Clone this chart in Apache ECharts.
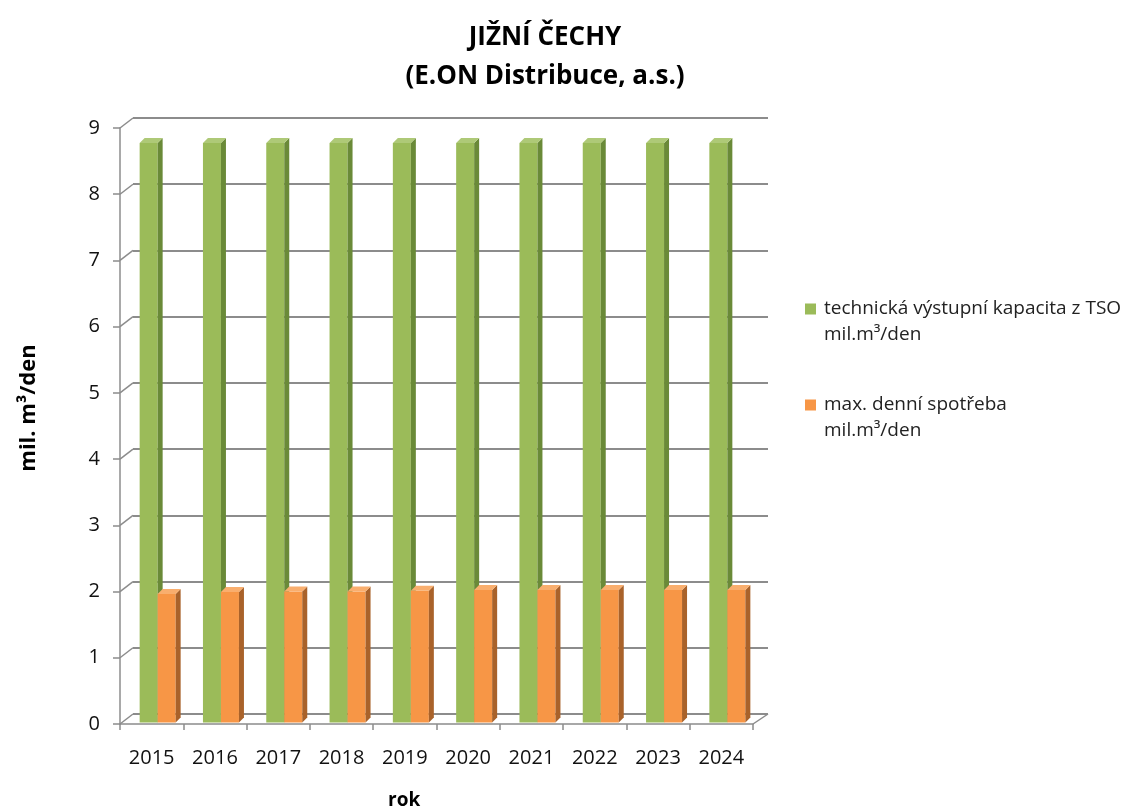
<!DOCTYPE html>
<html>
<head>
<meta charset="utf-8">
<script src="https://cdn.jsdelivr.net/npm/echarts@6/dist/echarts.min.js"></script>
<style>
  html, body { margin: 0; padding: 0; background: #fff; }
  #chart { width: 1141px; height: 810px; }
</style>
</head>
<body>
<div id="chart"></div>
<script>
// data
var roky = ['2015', '2016', '2017', '2018', '2019', '2020', '2021', '2022', '2023', '2024'];
var kapacita = [8.75, 8.75, 8.75, 8.75, 8.75, 8.75, 8.75, 8.75, 8.75, 8.75];
var spotreba = [1.94, 1.97, 1.98, 1.98, 1.99, 2.0, 2.0, 2.0, 2.0, 2.0];
var yTicks = [0, 1, 2, 3, 4, 5, 6, 7, 8, 9];

var nazevKapacita = 'technická výstupní kapacita z TSO\nmil.m³/den';
var nazevSpotreba = 'max. denní spotřeba\nmil.m³/den';

// hloubka 3D efektu
var HL = 5;
var BW = 18;     // sirka sloupce
var POSUN = 6;   // posun sloupcu doprava (sloupce stoji uprostred podlahy)

// ikona legendy zarovnana k prvnimu radku (pod ctvereckem prazdne misto)
var ikona = 'path://M0,0h10v10h-10z M0,33.6h0.01v0.01h-0.01z';

function sloupec3d(poradi, barvy) {
    return function (params, api) {
        var x = api.value(0), v = api.value(1);
        var base = api.coord([x, 0]);
        var top = api.coord([x, v]);
        var x0 = base[0] + POSUN + (poradi === 0 ? -BW : 0);
        var yb = base[1] - 1.5, yt = top[1] - 1.5;
        return {
            type: 'group',
            children: [
                { type: 'rect', shape: { x: x0, y: yt, width: BW, height: yb - yt },
                  style: { fill: barvy[0] } },
                { type: 'polygon', shape: { points: [[x0 + BW, yt], [x0 + BW + HL, yt - HL], [x0 + BW + HL, yb - HL], [x0 + BW, yb]] },
                  style: { fill: barvy[1] } },
                { type: 'polygon', shape: { points: [[x0, yt], [x0 + HL, yt - HL], [x0 + BW + HL, yt - HL], [x0 + BW, yt]] },
                  style: { fill: barvy[2] } }
            ]
        };
    };
}

// sikme cary od osy k zadni stene
function stena(params, api) {
    var v = api.value(1);
    var p = api.coord([0, v]);
    var pul = api.size([1, 0])[0] / 2;
    var left = p[0] - pul;
    var children = [
        { type: 'line', shape: { x1: left, y1: p[1], x2: left + 13, y2: p[1] - 10 },
          style: { stroke: '#8c8c8c', lineWidth: 1.5 } }
    ];
    if (v === 0) {
        var r = api.coord([roky.length - 1, 0]);
        var right = r[0] + pul;
        children.push({ type: 'line', shape: { x1: right, y1: r[1], x2: right + 15, y2: r[1] - 10 },
          style: { stroke: '#8c8c8c', lineWidth: 1.5 } });
    }
    return { type: 'group', children: children };
}

var chart = echarts.init(document.getElementById('chart'));
chart.setOption({
    backgroundColor: '#fff',
    animation: false,
    title: [
        {
            text: 'JIŽNÍ ČECHY\n(E.ON Distribuce, a.s.)',
            left: 540, top: 13, textAlign: 'center',
            textStyle: { fontFamily: 'Open Sans', fontSize: 26, fontWeight: 'bold', color: '#000', lineHeight: 39 }
        },
        {
            text: 'rok',
            left: 383, top: 786,
            textStyle: { fontFamily: 'Open Sans', fontSize: 19, fontWeight: 'bold', color: '#000' }
        }
    ],
    legend: {
        orient: 'vertical',
        left: 805, top: 296, padding: 0,
        itemWidth: 11, itemHeight: 37,
        itemGap: 44,
        icon: ikona,
        data: [nazevKapacita, nazevSpotreba],
        textStyle: { fontFamily: 'Open Sans', fontSize: 19, color: '#222', lineHeight: 26, padding: [0, 0, 0, 3] }
    },
    grid: [
        { left: 120, width: 633, top: 128, bottom: 86 },
        { left: 133, width: 635, top: 118, bottom: 96 }
    ],
    xAxis: [
        {
            type: 'category', gridIndex: 0, data: roky,
            axisLine: { lineStyle: { color: '#8c8c8c', width: 1.5 } },
            axisTick: { show: true, length: 6, lineStyle: { color: '#8c8c8c', width: 1.5 } },
            axisLabel: { fontFamily: 'Open Sans', fontSize: 20, color: '#111', margin: 24 }
        },
        {
            type: 'category', gridIndex: 1, data: roky,
            axisLine: { show: false }, axisTick: { show: false }, axisLabel: { show: false }
        }
    ],
    yAxis: [
        {
            type: 'value', gridIndex: 0, min: 0, max: 9, interval: 1,
            name: 'mil. m³/den', nameLocation: 'middle', nameGap: 80, nameRotate: 90,
            nameTextStyle: { fontFamily: 'Open Sans', fontSize: 22, fontWeight: 'bold', color: '#000', padding: [0, 0, 0, 36] },
            axisLine: { show: true, lineStyle: { color: '#8c8c8c', width: 1.5 } },
            axisTick: { show: true, length: 7, lineStyle: { color: '#8c8c8c', width: 1.5 } },
            axisLabel: { fontFamily: 'Open Sans', fontSize: 20, color: '#111', margin: 20 },
            splitLine: { show: false }
        },
        {
            type: 'value', gridIndex: 1, min: 0, max: 9, interval: 1,
            axisLine: { show: false }, axisTick: { show: false }, axisLabel: { show: false },
            splitLine: { show: true, lineStyle: { color: '#8c8c8c', width: 2 } }
        }
    ],
    series: [
        {
            name: 'stena', type: 'custom', xAxisIndex: 0, yAxisIndex: 0,
            data: yTicks.map(function (t) { return [0, t]; }),
            renderItem: stena, silent: true, z: 1
        },
        {
            name: nazevKapacita, type: 'custom', xAxisIndex: 0, yAxisIndex: 0,
            itemStyle: { color: '#9BBB59' },
            data: kapacita.map(function (v, i) { return [i, v]; }),
            renderItem: sloupec3d(0, ['#9BBB59', '#6A8A38', '#AEC977']), z: 3
        },
        {
            name: nazevSpotreba, type: 'custom', xAxisIndex: 0, yAxisIndex: 0,
            itemStyle: { color: '#F79646' },
            data: spotreba.map(function (v, i) { return [i, v]; }),
            renderItem: sloupec3d(1, ['#F79646', '#A9622A', '#F9AE6E']), z: 4
        }
    ]
});
</script>
</body>
</html>
